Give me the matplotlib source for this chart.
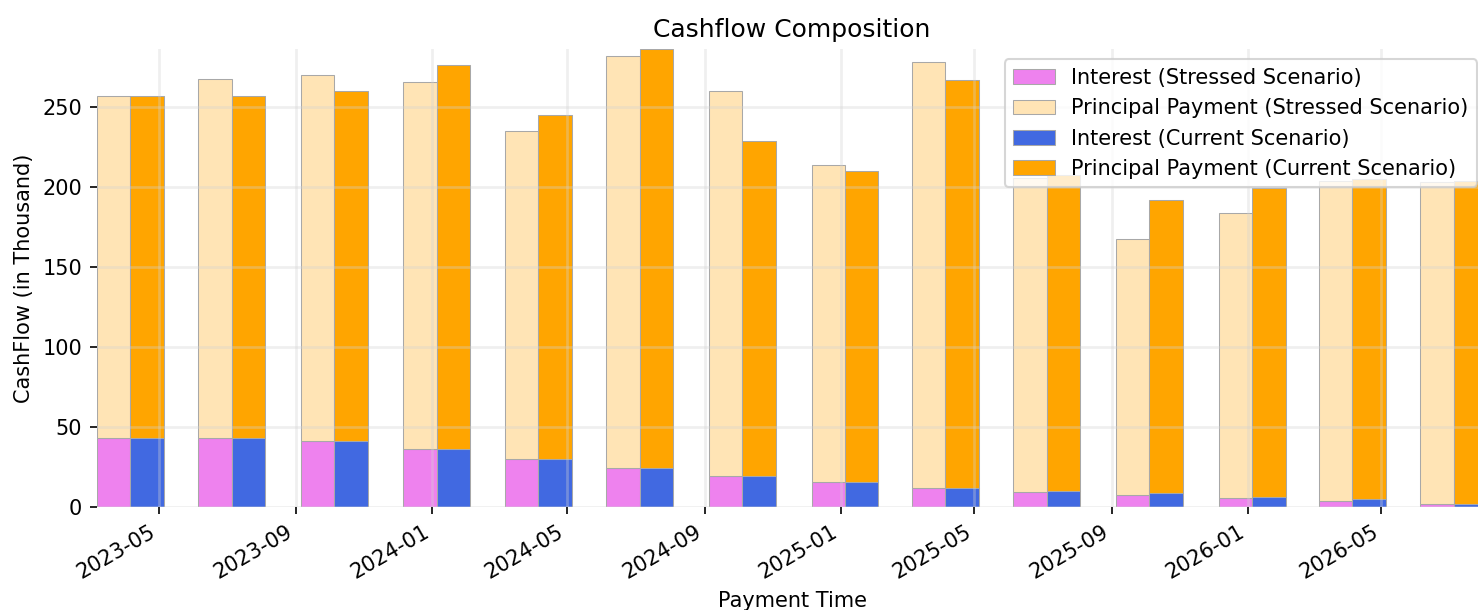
import matplotlib
matplotlib.use("Agg")
import matplotlib.pyplot as plt
import matplotlib.dates as mdates
import pandas as pd
import numpy as np

# ---- data (in thousands) ----
payment_dates = ["2023-04-05", "2023-07-05", "2023-10-05", "2024-01-05", "2024-04-05",
                 "2024-07-05", "2024-10-05", "2025-01-05", "2025-04-05", "2025-07-05",
                 "2025-10-05", "2026-01-05", "2026-04-05", "2026-07-05"]
interest_stressed = [43.1, 43.1, 41.2, 36.4, 30.0, 24.4, 19.8, 16.0, 12.3, 9.6, 7.5, 5.6, 3.7, 1.9]
principal_stressed = [214.2, 224.8, 228.8, 229.6, 205.0, 257.7, 240.6, 197.7, 265.8, 196.4,
                      160.0, 178.1, 200.3, 201.1]
interest_current = [43.1, 43.1, 41.2, 36.4, 30.0, 24.4, 19.8, 16.0, 12.3, 10.4, 8.7, 6.6, 5.0, 2.1]
principal_current = [214.2, 214.2, 219.0, 239.8, 215.4, 262.0, 208.9, 194.0, 254.6, 197.3,
                     183.2, 192.8, 200.0, 201.9]

dates = pd.to_datetime(payment_dates)
x = mdates.date2num(dates)
w = 30.0  # days

fig = plt.figure(figsize=(1478 / 150, 610 / 150), dpi=150)
ax = fig.add_axes([96.7 / 1478, (610 - 507.3) / 610, (1487.4 - 96.7) / 1478, (507.3 - 49) / 610])

edge = dict(edgecolor="#a8a8a8", linewidth=0.5)
ax.bar(x - w / 2, interest_stressed, width=w, color="violet",
       label="Interest (Stressed Scenario)", **edge)
ax.bar(x - w / 2, principal_stressed, width=w, bottom=interest_stressed, color="moccasin",
       label="Principal Payment (Stressed Scenario)", **edge)
ax.bar(x + w / 2, interest_current, width=w, color="royalblue",
       label="Interest (Current Scenario)", **edge)
ax.bar(x + w / 2, principal_current, width=w, bottom=interest_current, color="orange",
       label="Principal Payment (Current Scenario)", **edge)

tot_s = np.array(interest_stressed) + np.array(principal_stressed)
tot_c = np.array(interest_current) + np.array(principal_current)
ax.set_xlim(x[0] - w, x[-1] + w)
ax.set_ylim(0, max(tot_s.max(), tot_c.max()))

ax.xaxis.set_major_locator(mdates.MonthLocator(bymonth=[1, 5, 9]))
ax.xaxis.set_major_formatter(mdates.DateFormatter("%Y-%m"))
for lab in ax.get_xticklabels():
    lab.set_rotation(30)
    lab.set_ha("right")

ax.grid(True, color="lightgrey", alpha=0.35, linewidth=1.3)
for s in ax.spines.values():
    s.set_visible(False)

ax.set_title("Cashflow Composition", fontsize=12)
ax.set_xlabel("Payment Time")
ax.set_ylabel("CashFlow (in Thousand)")
ax.legend(loc="upper right")

fig.savefig("out.png", dpi=150)
